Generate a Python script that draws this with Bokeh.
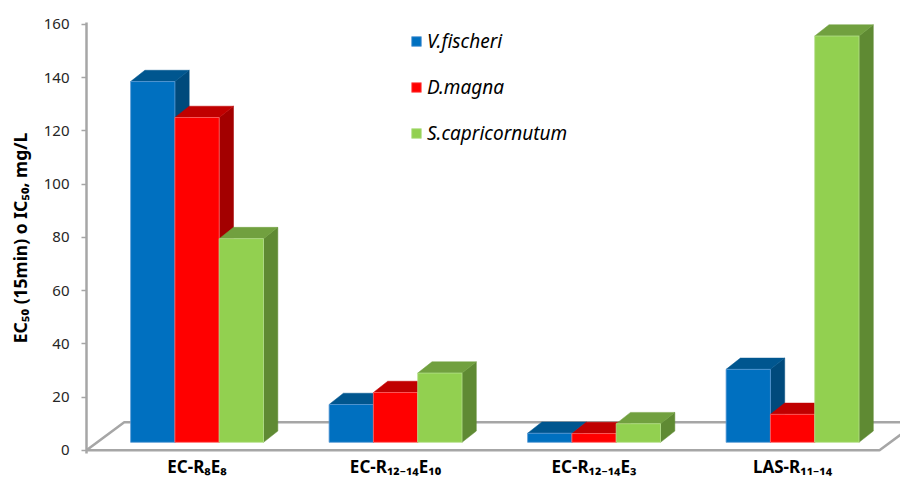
from bokeh.plotting import figure
from bokeh.models import Range1d, FixedTicker, Legend, LegendItem, ColumnDataSource
from bokeh.embed import file_html
from bokeh.resources import INLINE

# ---- data ----
categories = ["EC-R₈E₈", "EC-R₁₂₋₁₄E₁₀", "EC-R₁₂₋₁₄E₃", "LAS-R₁₁₋₁₄"]
series_names = ["V.fischeri", "D.magna", "S.capricornutum"]
v_fischeri = [135.5, 14.2, 3.4, 27.4]
d_magna = [122.0, 18.7, 3.3, 10.5]
s_capricornutum = [76.5, 26.0, 7.0, 152.6]
y_ticks = [0, 20, 40, 60, 80, 100, 120, 140, 160]

series_values = [v_fischeri, d_magna, s_capricornutum]
front_colors = ["#0070C0", "#FF0000", "#92D050"]
top_colors = ["#00568f", "#c00000", "#71a03f"]
side_colors = ["#004a7c", "#a30000", "#5f8a33"]
edge_colors = ["#5a9bd5", "#ff6666", "#b5e08c"]

# ---- 3D-look geometry (style, in axis units) ----
bar_w = 0.2232
depth_dx = 0.072
depth_dy = 4.24
base = 3.0
floor_left = -0.557
floor_right_off = 0.438
floor_dx = 0.19
floor_dy = 10.5

p = figure(width=900, height=484, output_backend="svg", toolbar_location=None,
           x_range=Range1d(floor_left, floor_left + 814 / 198.5), y_range=Range1d(-1.2, 160.68),
           min_border_left=86, min_border_right=0, min_border_top=22, min_border_bottom=31)
p.outline_line_color = None
p.xgrid.visible = False
p.ygrid.visible = False
p.background_fill_color = "white"

n = len(categories)
# floor
fx = [floor_left, n - 1 + floor_right_off, n - 1 + floor_right_off + floor_dx, floor_left + floor_dx]
fy = [0, 0, floor_dy, floor_dy]
p.patch(fx, fy, fill_color="white", line_color="#a6a6a6", line_width=2.5)

fronts = []
for si, vals in enumerate(series_values):
    lefts = [c - 1.5 * bar_w + si * bar_w for c in range(n)]
    rights = [l + bar_w for l in lefts]
    tops = [base + v for v in vals]
    side_xs = [[r, r, r + depth_dx, r + depth_dx] for r in rights]
    side_ys = [[base, t, t + depth_dy, base + depth_dy] for t in tops]
    top_xs = [[l, l + depth_dx, r + depth_dx, r] for l, r in zip(lefts, rights)]
    top_ys = [[t, t + depth_dy, t + depth_dy, t] for t in tops]
    p.patches(side_xs, side_ys, fill_color=side_colors[si], line_color=side_colors[si], line_width=0.5)
    p.patches(top_xs, top_ys, fill_color=top_colors[si], line_color=top_colors[si], line_width=0.5)
    src = ColumnDataSource(dict(left=lefts, right=rights, bottom=[base] * n, top=tops))
    r = p.quad(left="left", right="right", bottom="bottom", top="top", source=src,
               fill_color=front_colors[si], line_color=edge_colors[si], line_width=0.8)
    fronts.append(r)

# axes
p.yaxis.ticker = FixedTicker(ticks=y_ticks)
p.yaxis.axis_line_color = "#a6a6a6"
p.yaxis.axis_line_width = 2.5
p.yaxis.major_tick_line_color = "#a6a6a6"
p.yaxis.major_tick_line_width = 1.5
p.yaxis.major_tick_out = 5
p.yaxis.major_tick_in = 0
p.yaxis.minor_tick_line_color = None
p.yaxis.major_label_text_font = "Noto Sans"
p.yaxis.major_label_text_font_size = "15px"
p.yaxis.major_label_text_color = "#262626"
p.yaxis.major_label_standoff = 12
p.yaxis.axis_label = "EC₅₀ (15min) o IC₅₀, mg/L"
p.yaxis.axis_label_text_font = "Noto Sans"
p.yaxis.axis_label_text_font_style = "bold"
p.yaxis.axis_label_text_font_size = "17.5px"
p.yaxis.axis_label_text_color = "black"
p.yaxis.axis_label_standoff = 9

p.xaxis.ticker = FixedTicker(ticks=list(range(n)))
p.xaxis.major_label_overrides = {i: c for i, c in enumerate(categories)}
p.xaxis.axis_line_color = None
p.xaxis.major_tick_line_color = None
p.xaxis.minor_tick_line_color = None
p.xaxis.major_tick_out = 0
p.xaxis.major_label_standoff = 1
p.xaxis.major_label_text_font = "Noto Sans"
p.xaxis.major_label_text_font_style = "bold"
p.xaxis.major_label_text_font_size = "17px"
p.xaxis.major_label_text_color = "black"

legend = Legend(items=[LegendItem(label=nm, renderers=[r]) for nm, r in zip(series_names, fronts)],
                location=(324, 307), orientation="vertical",
                glyph_width=12, glyph_height=12, label_height=20, spacing=20,
                padding=0, margin=0, border_line_color=None, background_fill_alpha=0,
                label_text_font="Noto Sans", label_text_font_style="italic",
                label_text_font_size="19px", label_text_color="black", label_standoff=5)
p.add_layout(legend)

open("out.html", "w").write(file_html(p, INLINE))
